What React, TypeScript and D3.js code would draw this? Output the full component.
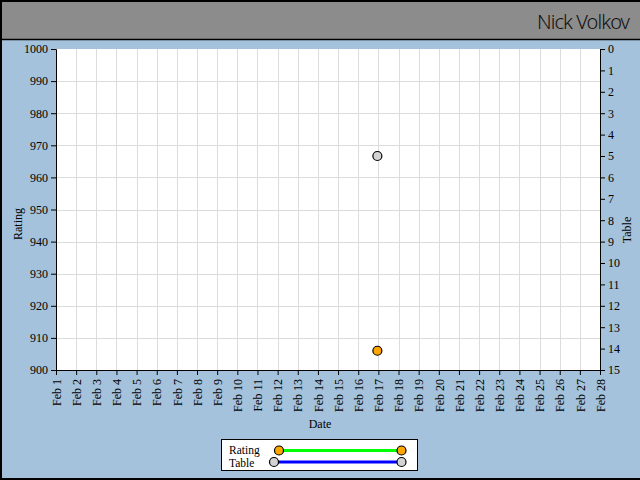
import React, { useRef, useEffect } from "react";
import * as d3 from "d3";

// chart data
const dates = ["2012-02-17"];
const ratings = [906];
const tables = [5];

const ratingDomain = [900, 1000];
const tableDomain = [0, 15];
const monthStart = "2012-02-01";
const monthEnd = "2012-02-28";

const seriesNames = ["Rating", "Table"];
const seriesLine = ["#00ff00", "#0000ff"];
const seriesDot = ["#ffa500", "#d3d3d3"];

const App = () => {
  const ref = useRef<SVGSVGElement>(null);

  useEffect(() => {
    if (!ref.current) return;
    const svg = d3.select(ref.current);
    svg.selectAll("*").remove();

    const W = 640;
    const H = 480;
    const font = "'Liberation Serif', serif";
    const plot = { left: 56, right: 600, top: 49, bottom: 370 };

    // background
    svg.append("rect").attr("width", W).attr("height", H).attr("fill", "#a4c2dc");
    svg.append("rect").attr("width", W).attr("height", 39).attr("fill", "#8c8c8c");
    svg.append("line").attr("x1", 0).attr("x2", W).attr("y1", 39.5).attr("y2", 39.5)
      .attr("stroke", "#000").attr("stroke-width", 1.5);
    // frame (left, top, bottom)
    svg.append("path").attr("d", `M${W},1 H1 V${H - 1} H${W}`)
      .attr("fill", "none").attr("stroke", "#000").attr("stroke-width", 2);

    svg.append("text")
      .attr("x", 630).attr("y", 29)
      .attr("text-anchor", "end")
      .attr("font-family", "'Noto Sans', sans-serif")
      .attr("font-weight", 300)
      .attr("font-size", 20)
      .attr("textLength", 93)
      .attr("fill", "#111")
      .text("Nick Volkov");

    const parse = d3.utcParse("%Y-%m-%d");
    const x = d3.scaleUtc()
      .domain([parse(monthStart)!, parse(monthEnd)!])
      .range([plot.left, plot.right]);
    const yR = d3.scaleLinear().domain(ratingDomain).range([plot.bottom, plot.top]);
    const yT = d3.scaleLinear().domain(tableDomain).range([plot.top, plot.bottom]);

    svg.append("rect")
      .attr("x", plot.left).attr("y", plot.top)
      .attr("width", plot.right - plot.left).attr("height", plot.bottom - plot.top)
      .attr("fill", "#fff");

    const days = d3.utcDay.range(x.domain()[0], d3.utcDay.offset(x.domain()[1], 1));

    // grid
    svg.append("g").selectAll("line").data(days.slice(1, -1)).enter().append("line")
      .attr("x1", (d) => Math.round(x(d)) + 0.5).attr("x2", (d) => Math.round(x(d)) + 0.5)
      .attr("y1", plot.top).attr("y2", plot.bottom)
      .attr("stroke", "#dcdcdc");
    svg.append("g").selectAll("line").data(yR.ticks(10).slice(1, -1)).enter().append("line")
      .attr("x1", plot.left).attr("x2", plot.right)
      .attr("y1", (d) => Math.round(yR(d)) + 0.5).attr("y2", (d) => Math.round(yR(d)) + 0.5)
      .attr("stroke", "#dcdcdc");

    const styleAxis = (g: any) => {
      g.selectAll("text").attr("font-family", font).attr("font-size", 12).attr("fill", "#000");
      g.selectAll("line,path").attr("stroke", "#000");
    };

    // left axis
    svg.append("g")
      .attr("transform", `translate(${plot.left},0)`)
      .call(d3.axisLeft(yR).ticks(10, "d").tickSize(5).tickPadding(3))
      .call(styleAxis);

    // right axis
    svg.append("g")
      .attr("transform", `translate(${plot.right},0)`)
      .call(d3.axisRight(yT).ticks(15, "d").tickSize(5).tickPadding(3))
      .call(styleAxis);

    // bottom axis
    const xAxis = svg.append("g")
      .attr("transform", `translate(0,${plot.bottom})`)
      .call(d3.axisBottom(x).tickValues(days).tickSize(5).tickFormat(d3.utcFormat("%b %-d") as any))
      .call(styleAxis);
    xAxis.selectAll("text")
      .attr("text-anchor", "end")
      .attr("transform", "rotate(-90)")
      .attr("x", -9)
      .attr("y", 0)
      .attr("dy", "0.35em");

    // axis titles
    svg.append("text")
      .attr("transform", "translate(22,224) rotate(-90)")
      .attr("text-anchor", "middle")
      .attr("font-family", font).attr("font-size", 12)
      .text("Rating");
    svg.append("text")
      .attr("transform", "translate(631,230) rotate(-90)")
      .attr("text-anchor", "middle")
      .attr("font-family", font).attr("font-size", 12)
      .text("Table");
    svg.append("text")
      .attr("x", 320).attr("y", 428)
      .attr("text-anchor", "middle")
      .attr("font-family", font).attr("font-size", 12)
      .text("Date");

    // series
    const rData = dates.map((d, i) => ({ date: parse(d)!, value: ratings[i] }));
    const tData = dates.map((d, i) => ({ date: parse(d)!, value: tables[i] }));

    const lineR = d3.line<{ date: Date; value: number }>().x((d) => x(d.date)).y((d) => yR(d.value));
    const lineT = d3.line<{ date: Date; value: number }>().x((d) => x(d.date)).y((d) => yT(d.value));

    svg.append("path").datum(tData).attr("d", lineT)
      .attr("fill", "none").attr("stroke", seriesLine[1]).attr("stroke-width", 3);
    svg.append("path").datum(rData).attr("d", lineR)
      .attr("fill", "none").attr("stroke", seriesLine[0]).attr("stroke-width", 3);

    svg.append("g").selectAll("circle").data(tData).enter().append("circle")
      .attr("cx", (d) => x(d.date) - 1).attr("cy", (d) => yT(d.value))
      .attr("r", 4.5).attr("fill", seriesDot[1]).attr("stroke", "#000").attr("stroke-width", 1.2);
    svg.append("g").selectAll("circle").data(rData).enter().append("circle")
      .attr("cx", (d) => x(d.date) - 1).attr("cy", (d) => yR(d.value))
      .attr("r", 4.5).attr("fill", seriesDot[0]).attr("stroke", "#000").attr("stroke-width", 1.2);

    // legend
    const lg = svg.append("g");
    lg.append("rect")
      .attr("x", 221.5).attr("y", 439.5).attr("width", 196).attr("height", 31)
      .attr("fill", "#fff").attr("stroke", "#000");
    const rows = [
      { y: 450.5, x0: 279, base: 453.5 },
      { y: 462, x0: 274, base: 466.5 },
    ];
    seriesNames.forEach((name, i) => {
      const r = rows[i];
      lg.append("text")
        .attr("x", 229).attr("y", r.base)
        .attr("font-family", font).attr("font-size", 11.5)
        .text(name);
      lg.append("line")
        .attr("x1", r.x0).attr("x2", 401.5).attr("y1", r.y).attr("y2", r.y)
        .attr("stroke", seriesLine[i]).attr("stroke-width", 3);
      [r.x0, 401.5].forEach((cx) => {
        lg.append("circle")
          .attr("cx", cx).attr("cy", r.y).attr("r", 4.5)
          .attr("fill", seriesDot[i]).attr("stroke", "#000").attr("stroke-width", 1.2);
      });
    });
  }, []);

  return (
    <div style={{ position: "fixed", left: 0, top: 0, width: 640, height: 480 }}>
      <svg ref={ref} width={640} height={480} style={{ display: "block" }}></svg>
    </div>
  );
};

export default App;
